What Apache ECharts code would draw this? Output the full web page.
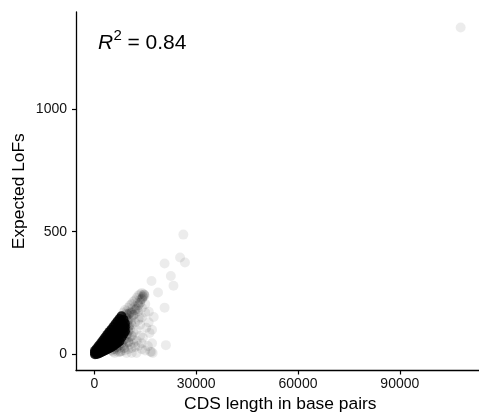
<!DOCTYPE html>
<html><head><meta charset="utf-8">
<script src="https://cdn.jsdelivr.net/npm/echarts@6/dist/echarts.min.js"></script>
<style>html,body{margin:0;padding:0;background:#fff}#c{width:479px;height:417px}</style>
</head><body><div id="c"></div>
<script>
// Tick values
const xTicks = [0, 30000, 60000, 90000];
const yTicks = [0, 500, 1000];
const xTitle = 'CDS length in base pairs';
const yTitle = 'Expected LoFs';
const r2Value = '0.84';

// Dense core of genes [CDS length, expected LoFs]
const coreGenes = [
  [200,0],[200,7],[200,14],
  [800,1],[800,12],[800,24],
  [1400,4],[1400,14],[1400,25],[1400,35],
  [2000,8],[2000,20],[2000,33],[2000,46],
  [2600,12],[2600,27],[2600,42],[2600,57],
  [3200,16],[3200,33],[3200,50],[3200,68],
  [3800,20],[3800,40],[3800,60],[3800,79],
  [4400,24],[4400,46],[4400,68],[4400,90],
  [5000,29],[5000,53],[5000,77],[5000,100],
  [5600,35],[5600,60],[5600,86],[5600,111],
  [6200,41],[6200,68],[6200,95],[6200,122],
  [6800,47],[6800,76],[6800,104],[6800,133],
  [7400,53],[7400,83],[7400,114],[7400,144],
  [8000,69],[8000,98],[8000,126],[8000,155],
  [8600,84],[8600,112],[8600,140],
  [9000,94],[9000,110],[9000,125]
];

// Genes just around the core
const fringeGenes = [
  [5000,15],[5800,20],[6500,28],[7200,35],[8000,45],[8800,60],[9500,80],[10000,95],
  [10200,115],[9800,135],[9400,150],[6000,40],[7000,55],[8000,75],[9000,90],[9500,105],
  [7600,10],[8800,25],[10000,50],[11000,75],[10800,130],[11500,160],[12500,185],
  [13500,210],[14300,235],[14700,243],[14000,225],[13000,200],[12000,180],[11000,170],
  [10200,165],[9500,165]
];

// Scattered genes further out
const spreadGenes = [
  [8500,170],[9000,180],[9500,175],[10000,190],[10500,200],[11000,205],[11500,215],
  [12000,220],[12500,230],[13000,240],[13500,245],[14000,250],[14500,245],[14800,238],
  [14200,230],[13500,222],[12800,210],[12000,195],[11200,185],[10500,170],[9800,160],
  [9200,150],[10000,140],[11000,150],[12000,165],[13000,175],[14000,190],[15000,205],
  [9500,120],[10000,110],[10500,100],[11000,120],[11500,90],[12000,130],[12500,100],
  [13000,140],[13500,120],[14000,150],[15000,170],[9800,80],[10500,70],[11500,60],
  [12500,55],[13500,75],[14300,67],[15300,108],[16260,87],[16000,130],[17000,100],
  [5500,10],[6500,18],[7500,25],[8500,35],[9500,45],[6000,5],[7000,8],[8000,12],
  [9000,15],[10000,20],[11000,25],[12000,30],[13000,35],[12400,5],[14000,20],
  [15000,15],[15770,33],[16500,10],[17200,5],[9500,5],[11000,5],[10500,40],
  [11500,45],[8500,55],[9500,65],[14000,45],[17000,45]
];

// Isolated genes
const outlierGenes = [
  [26220,488],[25260,395],[26700,374],[20700,370],[22530,319],[16850,299],
  [23320,279],[18770,252],[20700,190],[17500,152],[21080,37],[16850,9],
  [16060,173],[13360,149],[107930,1333]
];

const FONT = 'Liberation Sans, Arial, sans-serif';
const chart = echarts.init(document.getElementById('c'), null, {renderer: 'canvas'});

function scatter(name, data, opacity) {
  return {
    type: 'scatter', name: name, data: data, symbol: 'circle', symbolSize: 10,
    silent: true, itemStyle: {color: '#000', opacity: opacity}
  };
}

chart.setOption({
  animation: false,
  backgroundColor: '#fff',
  grid: {left: 76, top: 12, width: 409, height: 358.5, containLabel: false},
  xAxis: {
    type: 'value', min: -5400, max: 113330,
    axisLine: {show: true, onZero: false, lineStyle: {color: '#000', width: 1.3}},
    axisTick: {show: true, length: 4, lineStyle: {color: '#000', width: 1.2}, customValues: xTicks},
    axisLabel: {show: true, customValues: xTicks, formatter: v => String(v), color: '#111', fontSize: 14, fontFamily: FONT, margin: 7},
    splitLine: {show: false}
  },
  yAxis: {
    type: 'value', min: -66.5, max: 1396.5,
    axisLine: {show: true, onZero: false, lineStyle: {color: '#000', width: 1.3}},
    axisTick: {show: true, length: 4, lineStyle: {color: '#000', width: 1.2}, customValues: yTicks},
    axisLabel: {show: true, customValues: yTicks, formatter: v => String(v), color: '#111', fontSize: 14, fontFamily: FONT, margin: 9},
    splitLine: {show: false}
  },
  graphic: [
    {type: 'text', x: 280.3, y: 404.5, silent: true,
     style: {text: xTitle, fontSize: 17.4, fontFamily: FONT, fill: '#000', align: 'center', verticalAlign: 'middle'}},
    {type: 'text', x: 19, y: 191.2, rotation: Math.PI / 2, silent: true,
     style: {text: yTitle, fontSize: 17.4, fontFamily: FONT, fill: '#000', align: 'center', verticalAlign: 'middle'}},
    {type: 'text', x: 98, y: 43.5, silent: true,
     style: {text: 'R', fontSize: 21, fontStyle: 'italic', fontFamily: FONT, fill: '#000', align: 'left', verticalAlign: 'middle'}},
    {type: 'text', x: 113.5, y: 35.5, silent: true,
     style: {text: '2', fontSize: 15, fontFamily: FONT, fill: '#000', align: 'left', verticalAlign: 'middle'}},
    {type: 'text', x: 127.5, y: 43.5, silent: true,
     style: {text: '= ' + r2Value, fontSize: 21, fontFamily: FONT, fill: '#000', align: 'left', verticalAlign: 'middle'}}
  ],
  series: [
    scatter('outliers', outlierGenes, 0.075),
    scatter('spread', spreadGenes, 0.08),
    scatter('fringe', fringeGenes, 0.14),
    scatter('core', coreGenes, 0.85)
  ]
});
</script></body></html>
